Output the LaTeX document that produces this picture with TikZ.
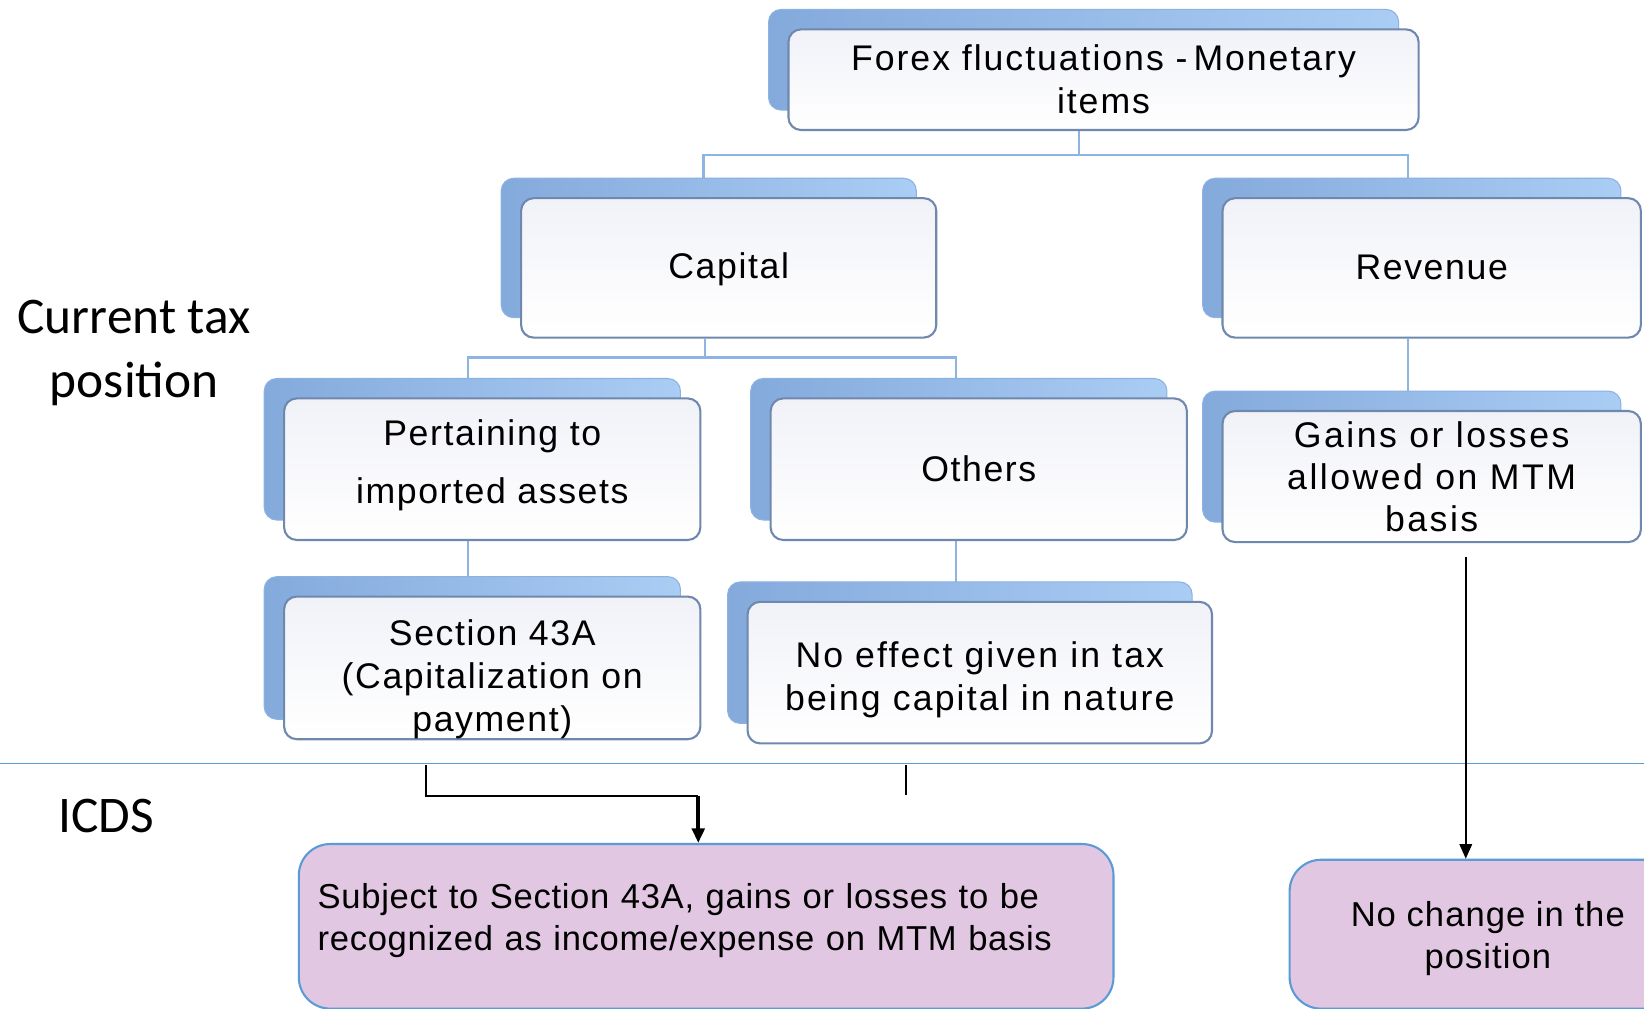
\documentclass[tikz,border=0pt]{standalone}
\usepackage{fontspec}
\setmainfont{Liberation Sans}
\newfontfamily\calib{Carlito}
\usetikzlibrary{shadows,backgrounds,calc,arrows.meta}
\definecolor{backL}{HTML}{84AADC}
\definecolor{backR}{HTML}{AACDF4}
\definecolor{backD}{HTML}{8DB2E2}
\definecolor{frontD}{HTML}{6F88AE}
\definecolor{frontT}{HTML}{F1F2F8}
\definecolor{connC}{HTML}{8DB4E2}
\definecolor{sepC}{HTML}{5B9BD5}
\definecolor{pinkC}{HTML}{E2C7E3}
\newcommand{\lsp}[1]{\addfontfeatures{LetterSpace=#1}}
\begin{document}
\begin{tikzpicture}[x=1pt,y=-1pt,
  box/.style={draw=frontD, line width=2pt, rounded corners=12pt,
    top color=frontT, bottom color=white, align=center, inner sep=0pt,
    font=\fontsize{34}{41}\selectfont\lsp{4.5},
    general shadow={shadow xshift=-19pt, shadow yshift=19pt,
      left color=backL, right color=backR, draw=backD, line width=1pt}},
  pbox/.style={draw=sepC, fill=pinkC, line width=2pt, rounded corners=30pt,
    inner sep=0pt, font=\fontsize{33}{40}\selectfont},
  conn/.style={draw=connC, line width=2pt},
  sepline/.style={draw=sepC, line width=1.5pt},
  blk/.style={draw=black, line width=1.6pt},
  blkthick/.style={draw=black, line width=3.6pt},
  lbl/.style={font=\calib\fontsize{49}{61}\selectfont, align=center, inner sep=0pt}]
\useasboundingbox (0,0) rectangle (1568,962);
\begin{pgfonlayer}{background}
\fill[white] (0,0) rectangle (1568,962);
\end{pgfonlayer}

% labels
\node[lbl] (cur) at (128,337) {Current tax\\position};
\node[lbl] (icds) at (101,778) {ICDS};

% tree boxes
\node[box, minimum width=601pt, minimum height=96pt, font=\fontsize{34}{41}\selectfont\lsp{5.5}] (top) at (1052.5,76) {Forex fluctuations -\,Monetary\\items};
\node[box, minimum width=396pt, minimum height=133pt] (cap) at (695,255.5) {\rule{0pt}{28pt}Capital};
\node[box, minimum width=399pt, minimum height=133pt] (rev) at (1365.5,255.5) {Revenue};
\node[box, minimum width=397pt, minimum height=135pt] (pert) at (469.5,447.5) {Pertaining to\\[14pt]imported assets\rule[-15pt]{0pt}{0pt}};
\node[box, minimum width=397pt, minimum height=135pt] (oth) at (933.5,447.5) {Others};
\node[box, minimum width=399pt, minimum height=125pt, font=\fontsize{34}{40}\selectfont\lsp{7}] (gains) at (1365.5,454.5) {Gains or losses\\allowed on MTM\\basis};
\node[box, minimum width=397pt, minimum height=136pt] (sec) at (469.5,637) {\rule{0pt}{47pt}Section 43A\\(Capitalization on\\payment)};
\node[box, minimum width=443pt, minimum height=135pt, font=\fontsize{34}{41}\selectfont\lsp{6}] (noeff) at (934.5,641.5) {\rule{0pt}{39pt}No effect given in tax\\being capital in nature};

% bottom boxes
\node[pbox, minimum width=777pt, minimum height=157pt, text width=741pt, align=left, font=\fontsize{33}{40}\selectfont\lsp{2}] (b1) at (673.5,883.5) {Subject to Section 43A, gains or losses to be\\recognized as income/expense on MTM basis\rule[-17pt]{0pt}{0pt}};
\node[pbox, minimum width=378pt, minimum height=142pt, align=center, font=\fontsize{33}{40}\selectfont\lsp{3}] (b2) at (1419,891) {\rule{0pt}{32pt}No change in the\\position};

% separator
\coordinate (sepL) at (0,728);
\coordinate (sepR) at (1568,728);
\draw[sepline] (sepL) -- (sepR);

% tree connectors
\begin{pgfonlayer}{background}
\draw[conn] ([xshift=-23pt]top.south) -- ++(0,23) -| ([xshift=-24pt]cap.north);
\draw[conn] ([xshift=-23pt]top.south) -- ++(0,23) -| ([xshift=-23pt]rev.north);
\draw[conn] ([xshift=-23pt]cap.south) -- ++(0,18) -| ([xshift=-23pt]pert.north);
\draw[conn] ([xshift=-23pt]cap.south) -- ++(0,18) -| ([xshift=-22pt]oth.north);
\draw[conn] ([xshift=-23pt]rev.south) -- ([xshift=-23pt]gains.north);
\draw[conn] ([xshift=-23pt]pert.south) -- ([xshift=-23pt]pert.south |- sec.north);
\draw[conn] ([xshift=-22pt]oth.south) -- ([xshift=-22pt]oth.south |- noeff.north);
\end{pgfonlayer}

% black arrows
\coordinate (a1) at (406,730);
\coordinate (a1j) at (666,759);
\draw[blk] (a1) |- (a1j);
\draw[blkthick, -{Triangle[width=12pt,length=14pt]}] (a1j) -- (a1j |- b1.north);
\coordinate (st1) at (864,730);
\coordinate (st2) at (864,758);
\draw[blk] (st1) -- (st2);
\coordinate (a2) at (1398,531);
\draw[blk, -{Triangle[width=12pt,length=14pt]}] (a2) -- (a2 |- b2.north);
\end{tikzpicture}
\end{document}
